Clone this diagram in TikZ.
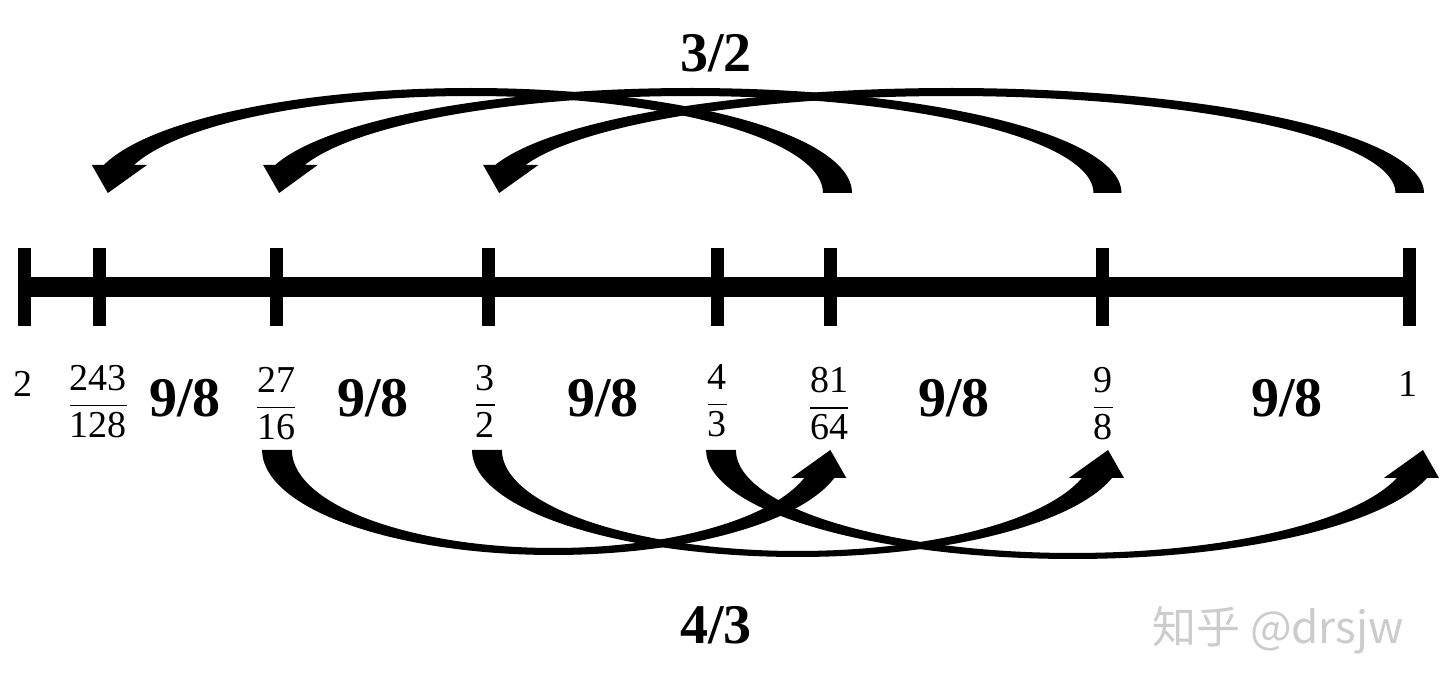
\documentclass[tikz,border=0pt]{standalone}
\usepackage{amsmath}
\usepackage{fontspec}
\setmainfont{Liberation Serif}
\newfontfamily\cjk{Noto Sans CJK SC}
\usetikzlibrary{positioning}

% stacked pitch ratio set in the text font
\newcommand{\pitchfrac}[2]{$\genfrac{}{}{0.9pt}{0}{\text{#1}}{\text{#2}}$}

% curved block arrow: centre x, centre y, outer a, outer b, inner a, inner b, rotation
\newcommand{\bandarrow}[7]{%
  \pgfmathsetmacro\angout{asin(28/#4)}%
  \pgfmathsetmacro\angin{asin(28/#6)}%
  \pgfmathsetmacro\endout{#3*cos(\angout)}%
  \pgfmathsetmacro\endin{#5*cos(\angin)}%
  \begin{scope}[shift={(#1,#2)},rotate=#7]
    \fill plot[domain=0:180-\angout,samples=60,smooth] ({-#3*cos(\x)},{#4*sin(\x)})
      -- (\endout+12,28) -- (\endout-4,0) -- (\endin-13,28)
      -- plot[domain=0:180-\angin,samples=60,smooth] ({#5*cos(\angin+\x)},{#6*sin(\angin+\x)})
      -- cycle;
  \end{scope}}

\begin{document}
\begin{tikzpicture}[
  x=0.5pt,y=-0.5pt,
  axis/.style={line width=10pt},
  tick/.style={line width=6.5pt},
  frac/.style={font=\fontsize{19}{23}\selectfont},
  ratio/.style={font=\fontsize{28}{32}\selectfont\bfseries,anchor=base},
  wmark/.style={font=\cjk\fontsize{22}{26}\selectfont,text=black!20}
]
\useasboundingbox (0,0) rectangle (1440,694);

% number line
\foreach \x/\n in {24/p2,99/p243,276/p27,488/p32,717/p43,830/p81,1102/p98,1409/p1}{
  \coordinate (\n) at (\x,287);
  \draw[tick] (\x,248) -- (\x,326);
}
\draw[axis] (p2) -- (p1);

% pitch labels
\node[frac] (l2) at (23,384) {2};
\node[frac] (l243) at (98,402) {\pitchfrac{243}{128}};
\node[frac] (l27) at (276,404) {\pitchfrac{27}{16}};
\node[frac] (l32) at (485,401) {\pitchfrac{3}{2}};
\node[frac] (l43) at (717,401) {\pitchfrac{4}{3}};
\node[frac] (l81) at (829,404) {\pitchfrac{81}{64}};
\node[frac] (l98) at (1103,404) {\pitchfrac{9}{8}};
\node[frac] (l1) at (1408,384) {1};

% whole tones
\node[ratio] (r1) at (185,417) {9/8};
\node[ratio] (r2) at (373,417) {9/8};
\node[ratio] (r3) at (603,417) {9/8};
\node[ratio] (r4) at (954,417) {9/8};
\node[ratio] (r5) at (1287,417) {9/8};

% fifths above, fourths below
\node[ratio] (fifth) at (716,72) {3/2};
\node[ratio] (fourth) at (716,643) {4/3};
\bandarrow{471}{193}{381}{105}{352}{97}{180}
\bandarrow{690.5}{193}{431}{105}{403}{97}{180}
\bandarrow{951}{193}{473}{105}{444.5}{97}{180}
\bandarrow{553.5}{450}{291.4}{105}{261.6}{98}{0}
\bandarrow{797.7}{450}{325.7}{107}{295.8}{101}{0}
\bandarrow{1072.7}{450}{366.6}{109}{336.8}{103}{0}

\node[wmark] (mark) at (1278,630) {知乎 @drsjw};
\end{tikzpicture}
\end{document}
